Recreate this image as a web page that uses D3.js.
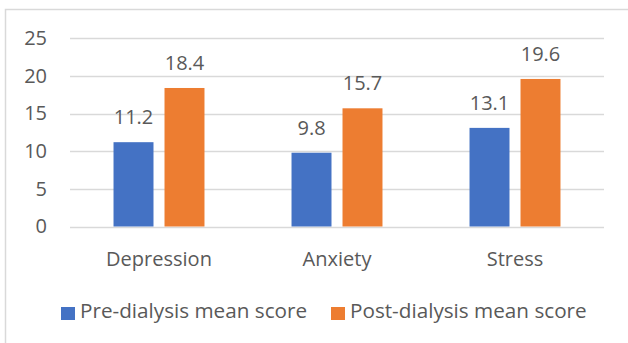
<!DOCTYPE html>
<html>
<head>
<meta charset="utf-8">
<script src="https://cdn.jsdelivr.net/npm/d3@7"></script>
<style>
  html, body { margin: 0; padding: 0; background: #fff; }
  text { font-family: 'Open Sans', sans-serif; fill: #595959; }
</style>
</head>
<body>
<svg id="area" width="628" height="343"></svg>
<script>
const categories = ['Depression', 'Anxiety', 'Stress'];
const series = ['Pre-dialysis mean score', 'Post-dialysis mean score'];
const preScores = [11.2, 9.8, 13.1];
const postScores = [18.4, 15.7, 19.6];
const yTicks = [0, 5, 10, 15, 20, 25];
const colors = ['#4472C4', '#ED7D31'];

const rows = categories.map((c, i) => ({
  category: c,
  values: [preScores[i], postScores[i]],
}));

const margin = {
  top: 38, bottom: 116, left: 70, right: 24,
};
const width = 628;
const height = 343;
const svg = d3.select('#area');

// chart area border (only top and left edges show in the crop)
svg.append('path')
  .attr('d', `M5.5,${height + 5}V9.5H${width + 5}`)
  .attr('fill', 'none')
  .attr('stroke', '#d9d9d9')
  .attr('stroke-width', 1.5);

const x0 = d3.scaleBand()
  .domain(categories)
  .range([margin.left, width - margin.right])
  .paddingInner(0.489)
  .paddingOuter(0.2445);

const x1 = d3.scaleBand()
  .domain(d3.range(series.length))
  .range([0, x0.bandwidth()])
  .paddingInner(0.216);

const y = d3.scaleLinear()
  .domain([0, 25])
  .range([height - margin.bottom - 0.5, margin.top + 0.3]);

// gridlines
svg.append('g')
  .selectAll('line')
  .data(yTicks)
  .enter().append('line')
  .attr('x1', margin.left)
  .attr('x2', width - margin.right)
  .attr('y1', (d) => Math.round(y(d)) + 0.5)
  .attr('y2', (d) => Math.round(y(d)) + 0.5)
  .attr('stroke', '#d9d9d9')
  .attr('stroke-width', 1.5);

const yAxis = d3.axisLeft(y).tickValues(yTicks).tickSize(0).tickPadding(0);
svg.append('g')
  .attr('class', 'y axis')
  .attr('transform', 'translate(47, 0)')
  .call(yAxis)
  .call((g) => g.select('.domain').remove())
  .selectAll('text')
  .style('font-size', '20px')
  .attr('fill', '#595959')
  .attr('font-family', "'Open Sans', sans-serif");

const groups = svg.append('g')
  .selectAll('g')
  .data(rows)
  .enter().append('g')
  .attr('transform', (d) => `translate(${x0(d.category)}, 0)`);

groups.selectAll('rect')
  .data((d) => d.values)
  .enter().append('rect')
  .attr('x', (d, i) => x1(i))
  .attr('y', (d) => y(d))
  .attr('width', x1.bandwidth())
  .attr('height', (d) => y(0) - y(d))
  .attr('fill', (d, i) => colors[i]);

groups.selectAll('text.label')
  .data((d) => d.values)
  .enter().append('text')
  .attr('class', 'label')
  .attr('x', (d, i) => x1(i) + x1.bandwidth() / 2)
  .attr('y', (d) => y(d) - 18)
  .attr('text-anchor', 'middle')
  .style('font-size', '20px')
  .text((d) => d.toFixed(1));

const xAxis = d3.axisBottom(x0).tickSize(0).tickPadding(0);
svg.append('g')
  .attr('class', 'x axis')
  .attr('transform', 'translate(0, 248)')
  .call(xAxis)
  .call((g) => g.select('.domain').remove())
  .selectAll('text')
  .attr('dy', '0.9em')
  .style('font-size', '20px')
  .attr('fill', '#595959')
  .attr('font-family', "'Open Sans', sans-serif");

// legend
const legendX = [61, 331];
const legend = svg.append('g')
  .selectAll('g')
  .data(series)
  .enter().append('g')
  .attr('transform', (d, i) => `translate(${legendX[i]}, 307)`);

legend.append('rect')
  .attr('width', 14)
  .attr('height', 13)
  .attr('fill', (d, i) => colors[i]);

legend.append('text')
  .attr('x', 19)
  .attr('y', 11)
  .style('font-size', '20.7px')
  .text((d) => d);
</script>
</body>
</html>
